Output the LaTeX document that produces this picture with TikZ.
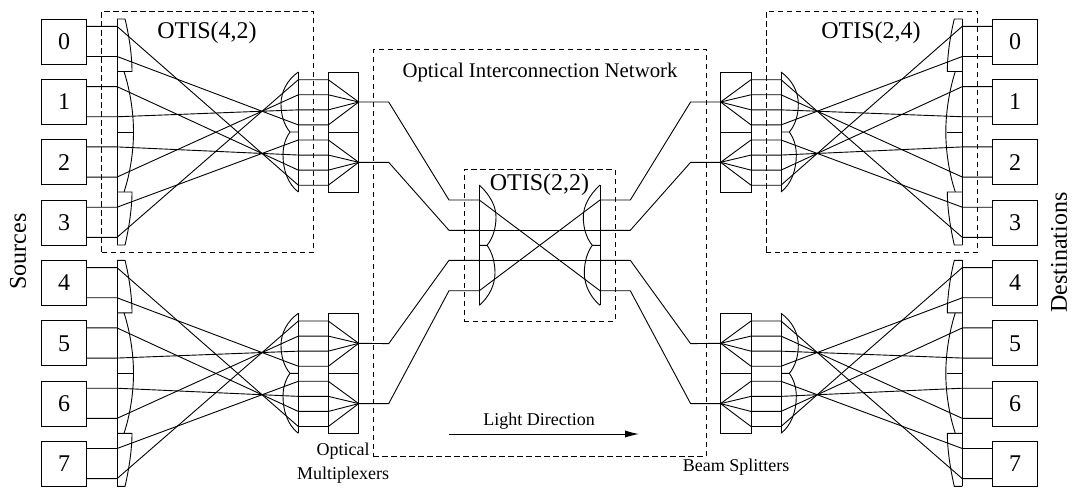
\documentclass[tikz,border=0pt]{standalone}
\usepackage{fontspec}
\setmainfont{Liberation Serif}
\usetikzlibrary{arrows.meta, positioning, calc}
\tikzset{
    srcbox/.style={
        rectangle,
        draw=black,
        line width=0.5pt,
        minimum width=22.5pt,
        minimum height=22.6pt,
        inner sep=0pt,
        font=\fontsize{12}{14}\selectfont
    },
    muxbox/.style={
        rectangle,
        draw=black,
        line width=0.5pt,
        minimum width=15.2pt,
        minimum height=30pt,
        inner sep=0pt
    },
    beam/.style={
        line width=0.45pt
    },
    region/.style={
        draw,
        line width=0.5pt,
        dash pattern=on 2.7pt off 1.8pt,
        inner sep=0pt
    },
    title/.style={
        inner sep=0pt,
        font=\fontsize{12}{14}\selectfont
    },
    smalltitle/.style={
        inner sep=0pt,
        font=\fontsize{9}{11}\selectfont
    },
    lightarrow/.style={
        line width=0.5pt,
        -{Latex[length=7pt,width=3.6pt]}
    },
}

\begin{document}
\begin{tikzpicture}[x=0.5pt, y=-0.5pt]

\useasboundingbox (0,0) rectangle (1074,495);

% OTIS(4,2) and OTIS(2,4) blocks, upper and lower
\foreach \blk/\first/\ox/\mx/\dy in {a/0/0/1/0, b/4/0/1/241.3, c/0/1079.3/-1/0, d/4/1079.3/-1/241.3} {
\begin{scope}[shift={(\ox,\dy)}, xscale=\mx]

    % Boxes
    \foreach \j in {0,...,3} {
        \pgfmathtruncatemacro{\num}{\first+\j}
        \node[srcbox] (\blk box\j) at (64.2, {41.65+60.33*\j}) {\num};
    }

    % Left lens
    \draw[beam] (117,19) -- (117,245);
    \draw[beam] (117,19) -- (125,19) .. controls (129,35) and (132,55) .. (132,71.5) -- (117,71.5);
    \draw[beam] (124,71.5) .. controls (130,90) and (133.5,112) .. (133.5,132) .. controls (133.5,152) and (130,174) .. (124,192);
    \draw[beam] (117,132) -- (132.5,132);
    \draw[beam] (117,192) -- (132,192) .. controls (132,208) and (129,228) .. (125,245) -- (117,245);

    % Right lens
    \draw[beam] (298.3,72) -- (298.3,192);
    \draw[beam] (298.3,72) .. controls (287,80) and (281,92) .. (281,104) .. controls (281,115) and (284,125) .. (290,132) -- (298.3,132);
    \draw[beam] (290,132) .. controls (285,139) and (283,147) .. (283,155) .. controls (283,170) and (288,184) .. (298.3,192);

    % Multiplexers
    \node[muxbox] (\blk mux0) at (343.5,102) {};
    \node[muxbox] (\blk mux1) at (343.5,162) {};
    \coordinate (\blk fo0) at (358.7,102);
    \coordinate (\blk fo1) at (358.7,162.3);

    % Beams
    \foreach \k/\m in {0/7, 1/3, 2/6, 3/2, 4/5, 5/1, 6/4, 7/0} {
        \coordinate (\blk in\k) at (86.7, {26.3+30.15*\k});
        \coordinate (\blk le\k) at (117, {26.3+30.15*\k});
        \coordinate (\blk lr\m) at (298.3, {79.7+15.07*\m});
        \coordinate (\blk mu\m) at (328.3, {79.7+15.07*\m});
        \pgfmathtruncatemacro{\f}{\m<4 ? 0 : 1}
        \draw[beam] (\blk in\k) -- (\blk le\k) -- (\blk lr\m) -- (\blk mu\m) -- (\blk fo\f);
    }
\end{scope}
}

% OTIS(2,2) lenses and links
\foreach \side/\up/\low/\ox/\mx in {l/a/b/0/1, r/c/d/1079.3/-1} {
\begin{scope}[shift={(\ox,0)}, xscale=\mx]
    \draw[beam] (479.3,185) -- (479.3,305.3);
    \draw[beam] (479.3,185) .. controls (490,195) and (496,206) .. (496,217) .. controls (496,228) and (493,238) .. (487,245.3) -- (479.3,245.3);
    \draw[beam] (487,245.3) .. controls (492,252) and (495,262) .. (495,273) .. controls (495,285) and (489,297) .. (479.3,305.3);

    \coordinate (\side el0) at (388.7,102);
    \coordinate (\side el1) at (388.7,162.3);
    \coordinate (\side el2) at (388.7,343.6);
    \coordinate (\side el3) at (388.7,403.6);
    \coordinate (\side kn0) at (449,200);
    \coordinate (\side kn1) at (449,230.3);
    \coordinate (\side kn2) at (449,260.3);
    \coordinate (\side kn3) at (449,290.7);
    \coordinate (\side ms0) at (479.3,200);
    \coordinate (\side ms1) at (479.3,230.3);
    \coordinate (\side ms2) at (479.3,260.3);
    \coordinate (\side ms3) at (479.3,290.7);

    \draw[beam] (\up fo0) -- (\side el0) -- (\side kn0) -- (\side ms0);
    \draw[beam] (\up fo1) -- (\side el1) -- (\side kn1) -- (\side ms1);
    \draw[beam] (\low fo0) -- (\side el2) -- (\side kn2) -- (\side ms2);
    \draw[beam] (\low fo1) -- (\side el3) -- (\side kn3) -- (\side ms3);
\end{scope}
}

% Crossing inside OTIS(2,2)
\draw[beam] (lms0) -- (rms3);
\draw[beam] (lms1) -- (rms1);
\draw[beam] (lms2) -- (rms2);
\draw[beam] (lms3) -- (rms0);

% Dashed regions
\node[region, minimum width=105.8pt, minimum height=120.85pt] (otisleft) at (207.5,131.85) {};
\node[region, minimum width=105.8pt, minimum height=120.85pt] (otisright) at (871.8,131.85) {};
\node[region, minimum width=166.35pt, minimum height=203.7pt] (network) at (539.65,253) {};
\node[region, minimum width=75.5pt, minimum height=75.85pt] (otismid) at (539.5,245.15) {};

% Labels
\node[title] (otisa) at (207,33) {OTIS(4,2)};
\node[title] (otisb) at (871,33) {OTIS(2,4)};
\node[title] (otisc) at (539.5,185) {OTIS(2,2)};
\node[title, rotate=90] (sources) at (18,251.5) {Sources};
\node[title, rotate=90] (dests) at (1059,252.5) {Destinations};
\node[smalltitle, font=\fontsize{10.4}{12}\selectfont] (oin) at (540,72) {Optical Interconnection Network};
\node[smalltitle] (light) at (539,421.5) {Light Direction};
\node[smalltitle] (optical) at (343,451) {Optical};
\node[smalltitle] (mplex) at (343,475) {Multiplexers};
\node[smalltitle] (split) at (736,467) {Beam Splitters};

% Light arrow
\coordinate (lstart) at (449,434);
\coordinate (lend) at (639,434);
\draw[lightarrow] (lstart) -- (lend);

\end{tikzpicture}
\end{document}
